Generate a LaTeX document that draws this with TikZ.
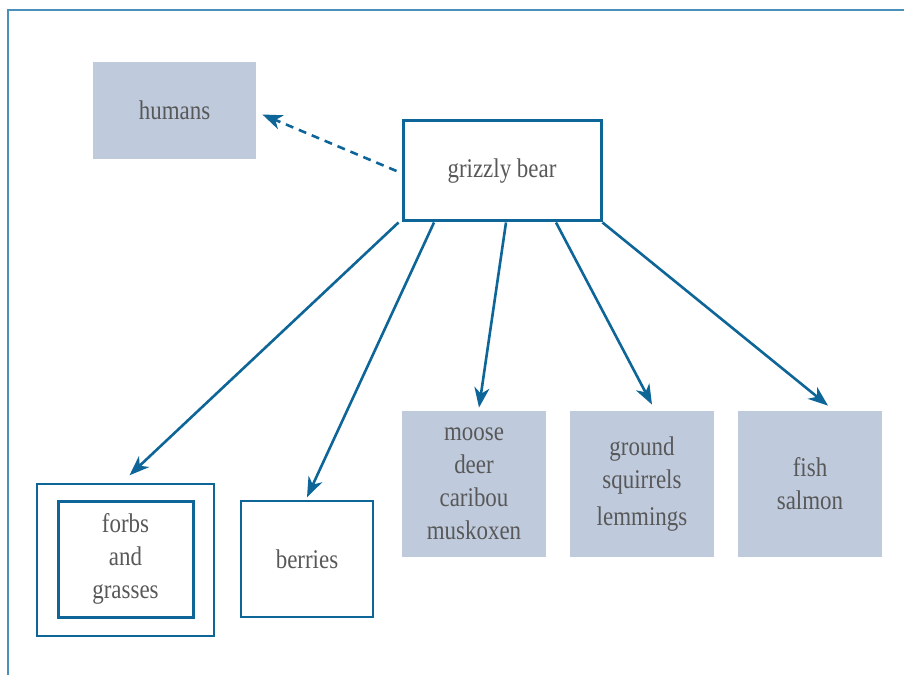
\documentclass[tikz,border=0pt]{standalone}
\usepackage{fontspec}
\setmainfont{Liberation Serif}[FakeStretch=0.85]
\usepackage{tikz}
\usetikzlibrary{arrows.meta}
\definecolor{webblue}{HTML}{0E6597}
\definecolor{frameblue}{HTML}{4A90BA}
\definecolor{boxfill}{HTML}{BFCBDD}
\definecolor{textgray}{HTML}{585858}

\begin{document}
\begin{tikzpicture}[x=0.5pt, y=0.5pt,
  every node/.style={font=\fontsize{13.5}{16.5}\selectfont, text=textgray, align=center, inner sep=0pt},
  food/.style={fill=boxfill},
  plant/.style={draw=webblue, line width=0.7pt},
  eats/.style={draw=webblue, line width=1.3pt, -{Stealth[length=10pt, width=7.5pt, inset=3pt]}}]
\useasboundingbox (0,0) rectangle (904,675);
\draw[frameblue, line width=0.8pt] (8,0) -- (8,665) -- (904,665);
\node[food, minimum width=81.5pt, minimum height=48.5pt] (humans) at (174.5,564.5) {humans};
\node[draw=webblue, line width=1.5pt, minimum width=99pt, minimum height=50pt] (bear) at (502,504) {grizzly bear};
\node[plant, minimum width=88.5pt, minimum height=76pt] (forbsout) at (125.5,115) {};
\node[draw=webblue, line width=1.5pt, minimum width=67.5pt, minimum height=58pt] (forbs) at (125.5,116) {forbs\\and\\grasses};
\node[plant, minimum width=66pt, minimum height=58pt] (berries) at (307,116) {berries};
\node[food, minimum width=72pt, minimum height=73pt] (moose) at (474,191) {moose\\deer\\caribou\\muskoxen};
\node[food, minimum width=72pt, minimum height=73pt] (squirrels) at (642,191) {ground\\squirrels\\[2pt]lemmings};
\node[food, minimum width=72pt, minimum height=73pt] (fish) at (810,191) {fish\\salmon};
\draw[eats, dash pattern=on 4pt off 3pt] ([xshift=-2.5pt]bear.west) -- ([xshift=3pt, yshift=-2pt]humans.east);
\draw[eats] ([xshift=-1.5pt]bear.south west) -- ([xshift=2pt, yshift=4pt]forbsout.north);
\draw[eats] ([xshift=-34pt]bear.south) -- ([yshift=1.5pt]berries.north);
\draw[eats] ([xshift=2pt]bear.south) -- ([xshift=2.5pt, yshift=1.5pt]moose.north);
\draw[eats] ([xshift=27pt]bear.south) -- ([xshift=5pt, yshift=3pt]squirrels.north);
\draw[eats] (bear.south east) -- ([xshift=9pt, yshift=2.5pt]fish.north);
\end{tikzpicture}
\end{document}
